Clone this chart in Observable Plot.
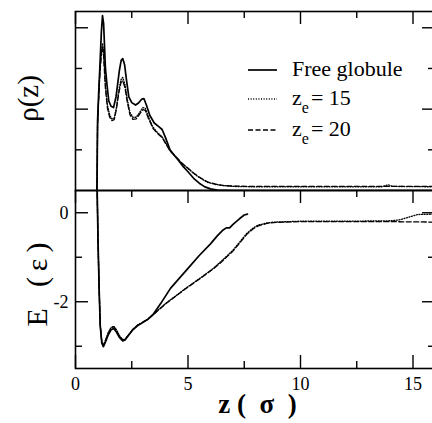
<!DOCTYPE html>
<html><head><meta charset="utf-8">
<script src="https://cdn.jsdelivr.net/npm/d3@7"></script>
<script src="https://cdn.jsdelivr.net/npm/@observablehq/plot@0.6"></script>
<style>
html,body{margin:0;padding:0;background:#fff;overflow:hidden;width:432px;height:423px;}
#wrap{position:relative;width:432px;height:423px;overflow:hidden;background:#fff;}
#wrap svg{position:absolute;left:0;top:0;}
</style></head><body><div id="wrap"></div>
<script>
// ---------- data: upper panel, density rho(z) ----------
const zRhoFree = [0.95,0.96,0.98,1.03,1.08,1.15,1.2,1.25,1.33,1.4,1.48,1.58,1.69,1.8,1.87,1.95,2.03,2.1,2.18,2.27,2.37,2.5,2.67,2.8,2.95,3.04,3.15,3.3,3.5,3.7,3.85,4.0,4.2,4.4,4.58,4.8,5.0,5.25,5.5,5.75,6.0,6.3,7,16];
const rhoFree  = [0,0.3,1.7,2.4,3.0,3.9,4.3,4.1,3.0,2.6,2.2,2.07,2.04,2.3,2.6,2.95,3.2,3.24,3.1,2.7,2.3,2.16,2.1,2.15,2.25,2.26,2.1,1.85,1.66,1.57,1.5,1.3,1.0,0.86,0.74,0.58,0.46,0.3,0.18,0.09,0.04,0.01,0,0];
const zRhoZe15 = [0.95,0.96,0.98,1.03,1.08,1.15,1.2,1.25,1.33,1.42,1.52,1.62,1.72,1.82,1.92,2.02,2.1,2.2,2.3,2.42,2.55,2.7,2.85,3.0,3.1,3.25,3.45,3.65,3.85,4.0,4.2,4.4,4.6,4.8,5.0,5.25,5.5,5.87,6.2,6.6,7,8,10,12,13.6,13.9,14.1,16];
const rhoZe15  = [0,0.3,1.6,2.3,2.9,3.4,3.62,3.4,2.6,2.1,1.85,1.76,1.78,2.05,2.45,2.72,2.78,2.6,2.25,1.92,1.8,1.8,1.92,2.04,2.02,1.8,1.55,1.42,1.32,1.18,0.98,0.86,0.74,0.63,0.54,0.42,0.32,0.2,0.15,0.12,0.1,0.09,0.09,0.09,0.09,0.14,0.1,0.09];
const zRhoZe20 = [0.95,0.96,0.98,1.03,1.08,1.15,1.2,1.25,1.33,1.42,1.52,1.62,1.72,1.82,1.92,2.02,2.1,2.2,2.3,2.42,2.55,2.7,2.85,3.0,3.1,3.25,3.45,3.65,3.85,4.0,4.2,4.4,4.6,4.8,5.0,5.25,5.5,5.87,6.2,6.6,7,8,10,12,14,16];
const rhoZe20  = [0,0.3,1.55,2.25,2.85,3.35,3.52,3.3,2.5,2.02,1.8,1.72,1.74,2.0,2.38,2.65,2.7,2.52,2.18,1.86,1.75,1.76,1.88,1.99,1.97,1.76,1.52,1.4,1.3,1.16,0.97,0.86,0.75,0.64,0.55,0.43,0.33,0.21,0.16,0.12,0.11,0.1,0.1,0.1,0.1,0.1];

// ---------- data: lower panel, energy E(z) ----------
const zEFree = [0.96,1.0,1.05,1.1,1.17,1.24,1.32,1.45,1.58,1.7,1.82,1.95,2.1,2.2,2.35,2.55,2.75,2.95,3.2,3.47,3.8,4.22,4.6,5.0,5.5,6.0,6.3,6.53,6.7,6.85,7.0,7.3,7.5,7.64];
const eFree  = [0.6,-0.6,-1.7,-2.55,-2.93,-3.01,-2.92,-2.75,-2.63,-2.6,-2.68,-2.8,-2.88,-2.86,-2.76,-2.63,-2.54,-2.48,-2.4,-2.27,-2.03,-1.7,-1.48,-1.25,-0.96,-0.7,-0.52,-0.4,-0.34,-0.34,-0.26,-0.13,-0.05,-0.03];
const zEZe15 = [0.96,1.0,1.05,1.1,1.17,1.24,1.32,1.45,1.58,1.7,1.82,1.95,2.1,2.2,2.35,2.55,2.75,2.95,3.2,3.47,3.64,4.0,4.5,4.89,5.2,5.56,6.13,6.5,7.0,7.33,7.6,7.9,8.1,8.5,8.8,10,12,14,14.4,14.8,15.2,16];
const eZe15  = [0.6,-0.6,-1.7,-2.52,-2.9,-2.97,-2.88,-2.7,-2.58,-2.55,-2.63,-2.76,-2.85,-2.84,-2.75,-2.62,-2.53,-2.47,-2.4,-2.28,-2.2,-2.04,-1.85,-1.7,-1.59,-1.46,-1.25,-1.08,-0.84,-0.64,-0.47,-0.34,-0.28,-0.23,-0.21,-0.19,-0.19,-0.18,-0.16,-0.1,-0.04,-0.03];
const zEZe20 = [0.96,1.0,1.05,1.1,1.17,1.24,1.32,1.45,1.58,1.7,1.82,1.95,2.1,2.2,2.35,2.55,2.75,2.95,3.2,3.47,3.64,4.0,4.5,4.89,5.2,5.56,6.13,6.5,7.0,7.33,7.6,7.9,8.1,8.5,8.8,10,12,14,16];
const eZe20  = [0.6,-0.6,-1.7,-2.53,-2.91,-2.98,-2.89,-2.71,-2.59,-2.56,-2.64,-2.77,-2.86,-2.85,-2.75,-2.62,-2.53,-2.47,-2.4,-2.29,-2.21,-2.05,-1.86,-1.71,-1.6,-1.47,-1.26,-1.1,-0.86,-0.66,-0.49,-0.36,-0.3,-0.24,-0.22,-0.2,-0.2,-0.2,-0.21];

// ---------- ticks & labels ----------
const xMajorTicks = [0, 5, 10, 15];
const xMinorTicks = [2.5, 7.5, 12.5];
const rhoMajorTicks = [2, 4];
const rhoMinorTicks = [1, 3];
const eMajorTicks = [0, -2];
const eMinorTicks = [-1, -3];
const xLabelTicks = [0, 5, 10, 15];
const eLabelTicks = [0, -2];
const seriesNames = ["Free globule", "z_e = 15", "z_e = 20"];
const seriesDash = [null, "1,1.6", "5,2.5"];
const seriesWidth = [1.7, 1.3, 1.3];
const yLabelTop = "ρ(z)";
const yLabelBottom = "E\u2002\u2009(\u2009ε\u2009)";
const xLabel = "z (\u2002σ\u2002)";

const zip = (zs, vs) => zs.map((z, i) => ({z, v: vs[i]}));
const rhoSeries = [zip(zRhoFree, rhoFree), zip(zRhoZe15, rhoZe15), zip(zRhoZe20, rhoZe20)];
const eSeries = [zip(zEFree, eFree), zip(zEZe15, eZe15), zip(zEZe20, eZe20)];

// ---------- layout ----------
const W = 437, ML = 75, MR = 2;
const PW = W - ML - MR;
const FONT = "Liberation Serif";
const MAJ = 13, MIN = 7;

function tickMarks(PH, yMaj, yMin, atTop, atBottom) {
  const m = [];
  const sw = 1.4;
  if (atTop) {
    m.push(Plot.ruleX(xMajorTicks, {x: d => d, insetBottom: PH - MAJ, strokeWidth: sw}));
    m.push(Plot.ruleX(xMinorTicks, {x: d => d, insetBottom: PH - MIN, strokeWidth: sw}));
  }
  if (atBottom) {
    m.push(Plot.ruleX(xMajorTicks, {x: d => d, insetTop: PH - MAJ, strokeWidth: sw}));
    m.push(Plot.ruleX(xMinorTicks, {x: d => d, insetTop: PH - MIN, strokeWidth: sw}));
  }
  m.push(Plot.ruleY(yMaj, {y: d => d, insetRight: PW - MAJ, strokeWidth: sw}));
  m.push(Plot.ruleY(yMin, {y: d => d, insetRight: PW - MIN, strokeWidth: sw}));
  m.push(Plot.ruleY(yMaj, {y: d => d, insetLeft: PW - MAJ, strokeWidth: sw}));
  m.push(Plot.ruleY(yMin, {y: d => d, insetLeft: PW - MIN, strokeWidth: sw}));
  return m;
}

function seriesLines(series) {
  return series.map((s, i) => Plot.line(s, {
    x: "z", y: "v", stroke: "black", strokeWidth: seriesWidth[i],
    strokeDasharray: seriesDash[i], clip: true, curve: "linear"
  }));
}

const styleObj = {background: "transparent", fontFamily: FONT, maxWidth: "none", color: "black"};

// upper panel
const topH = 200, topMT = 11, topMB = 10;
const topPH = topH - topMT - topMB;
const topPlot = Plot.plot({
  width: W, height: topH,
  marginLeft: ML, marginRight: MR, marginTop: topMT, marginBottom: topMB,
  style: styleObj,
  x: {domain: [0, 16], axis: null},
  y: {domain: [0, 4.4], axis: null},
  marks: [
    ...seriesLines(rhoSeries),
    ...tickMarks(topPH, rhoMajorTicks, rhoMinorTicks, true, false),
    Plot.frame({strokeWidth: 1.6}),
    Plot.text([yLabelTop], {frameAnchor: "left", textAnchor: "middle", lineAnchor: "middle", dx: -47, dy: -2.5, rotate: -90, fontSize: 29, fontFamily: FONT})
  ]
});

// lower panel
const botH = 423, botMT = 190, botMB = 55;
const botPH = botH - botMT - botMB;
const bottomPlot = Plot.plot({
  width: W, height: botH,
  marginLeft: ML, marginRight: MR, marginTop: botMT, marginBottom: botMB,
  style: styleObj,
  x: {domain: [0, 16]},
  y: {domain: [-3.5, 0.5]},
  marks: [
    ...seriesLines(eSeries),
    ...tickMarks(botPH, eMajorTicks, eMinorTicks, true, true),
    Plot.frame({strokeWidth: 1.6}),
    Plot.axisX({ticks: xLabelTicks, tickSize: 0, tickPadding: 9, fontSize: 18, fontFamily: FONT, tickFormat: d => String(d), label: null}),
    Plot.axisY({ticks: eLabelTicks, tickSize: 0, tickPadding: 7, fontSize: 18, fontFamily: FONT, tickFormat: d => (d < 0 ? "-" + Math.abs(d) : String(d)), label: null}),
    Plot.text([yLabelBottom], {frameAnchor: "left", textAnchor: "middle", lineAnchor: "middle", dx: -38, dy: 5, rotate: -90, fontSize: 30, fontFamily: FONT}),
    Plot.text([xLabel], {frameAnchor: "bottom", textAnchor: "middle", lineAnchor: "middle", dx: 2, dy: 36, fontSize: 27, fontWeight: "bold", fontFamily: FONT})
  ]
});

const wrap = document.getElementById("wrap");
wrap.appendChild(bottomPlot);
wrap.appendChild(topPlot);

// legend inside upper panel
const lg = d3.select(topPlot).append("g").attr("font-family", FONT).attr("font-size", 22)
  .attr("fill", "black").attr("text-anchor", "start");
const rowBase = [76, 105, 136];
seriesNames.forEach((name, i) => {
  const yb = rowBase[i];
  lg.append("line").attr("x1", 248).attr("x2", 277).attr("y1", yb - 6).attr("y2", yb - 6)
    .attr("stroke", "black").attr("stroke-width", seriesWidth[i])
    .attr("stroke-dasharray", seriesDash[i]);
  const t = lg.append("text").attr("x", 292).attr("y", yb).attr("text-anchor", "start");
  const m = name.match(/^(.*)_(\w)(.*)$/);
  if (m) {
    t.append("tspan").text(m[1]);
    t.append("tspan").attr("font-size", 16).attr("dy", 8).text(m[2]);
    t.append("tspan").attr("dy", -8).attr("dx", 2).text(m[3].trim());
  } else {
    t.text(name);
  }
});
</script></body></html>
